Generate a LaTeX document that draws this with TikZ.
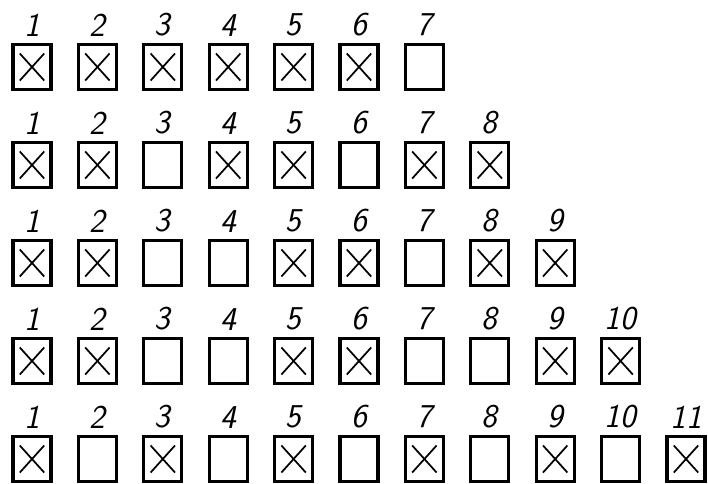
\documentclass[tikz,border=0pt]{standalone}
\usetikzlibrary{shapes.misc,positioning}

\tikzset{
  cell/.style={draw, line width=2.5pt, minimum width=28.5pt, minimum height=33.5pt, inner sep=0pt},
  crossmark/.style={cross out, draw, line width=1.3pt, minimum width=17pt, minimum height=19pt, inner sep=0pt},
  digit/.style={font=\fontsize{25}{27}\selectfont\sffamily\itshape, inner sep=0pt}
}

\begin{document}
\begin{tikzpicture}[x=0.75pt,y=-0.75pt]
  \useasboundingbox (0,0) rectangle (708,483);
  % one row per line: 1 = crossed cell, 0 = empty cell
  \foreach \r/\pat in {1/{1,1,1,1,1,1,0},
                       2/{1,1,0,1,1,0,1,1},
                       3/{1,1,0,0,1,1,0,1,1},
                       4/{1,1,0,0,1,1,0,0,1,1},
                       5/{1,0,1,0,1,0,1,0,1,0,1}} {
    \foreach \m [count=\c] in \pat {
      \node[cell] (b\r-\c) at ({32+65.4*(\c-1)},{67+98*(\r-1)}) {};
      \node[digit, above=5pt of b\r-\c] (n\r-\c) {\c};
      \ifnum\m=1
        \node[crossmark] (x\r-\c) at (b\r-\c) {};
      \fi
    }
  }
\end{tikzpicture}
\end{document}
